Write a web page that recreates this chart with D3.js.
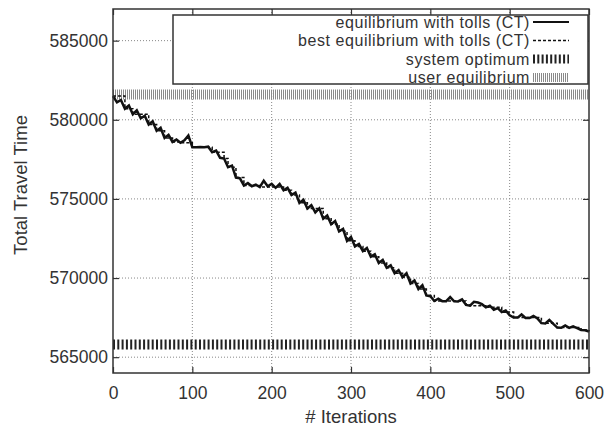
<!DOCTYPE html>
<html>
<head>
<meta charset="utf-8">
<script src="https://cdn.jsdelivr.net/npm/d3@7"></script>
<style>
  body { margin: 0; background: #fff; }
  text { font-family: "Liberation Sans", Arial, sans-serif; fill: #333; }
</style>
</head>
<body>
<svg id="vis" width="608" height="429"></svg>
<script>
// iterations sampled every 5 steps
const iterations = d3.range(0, 601, 5);

// equilibrium with tolls (CT)
const eqTolls = [
  581500, 581100, 581250, 580700, 580900, 580350, 580600, 580100, 580250, 579700,
  579900, 579300, 579500, 578850, 579050, 578600, 578750, 578550, 578700, 579000,
  578270, 578270, 578280, 578270, 578300, 577950, 578050, 577600, 577550, 577000,
  577100, 576350, 576300, 575850, 576000, 575800, 575900, 575750, 576150, 575800,
  575950, 575700, 575950, 575550, 575700, 575250, 575400, 574750, 574950, 574400,
  574600, 574150, 574400, 573750, 573950, 573400, 573600, 572950, 573100, 572350,
  572600, 572000, 572150, 571700, 571900, 571350, 571500, 570950, 571150, 570650,
  570800, 570300, 570500, 570050, 570300, 569650, 569850, 569300, 569550, 568900,
  568850, 568550, 568700, 568540, 568540, 568800, 568530, 568520, 568650, 568300,
  568250, 568500, 568450, 568350, 568150, 568250, 568000, 568100, 567850, 567950,
  567650, 567500, 567500, 567700, 567480, 567470, 567600, 567450, 567150, 567130,
  567350, 567100, 566870, 566860, 567000, 566850, 566950, 566830, 566720, 566700,
  566620
];

// best equilibrium with tolls (CT), step curve
const bestIter = [0, 15, 25, 45, 55, 65, 75, 85, 100, 125, 140, 145, 155, 165, 185, 215, 225,
  235, 245, 265, 275, 285, 295, 305, 315, 325, 335, 345, 355, 365, 375, 385, 395, 405, 445,
  450, 470, 490, 505, 540, 560, 590, 600];
const bestVal = [581500, 580700, 580350, 579700, 579300, 578850, 578600, 578550, 578270, 577950,
  577550, 577000, 576350, 575850, 575750, 575550, 575250, 574750, 574400, 573750, 573400,
  572950, 572350, 572000, 571700, 571350, 570950, 570650, 570300, 570050, 569650, 569300,
  568900, 568550, 568300, 568250, 568150, 567850, 567500, 567150, 566870, 566720, 566620];

const systemOptimum = 565800;
const userEquilibrium = 581600;

const xTicks = [0, 100, 200, 300, 400, 500, 600];
const yTicks = [565000, 570000, 575000, 580000, 585000];

const legendLabels = [
  'equilibrium with tolls (CT)',
  'best equilibrium with tolls (CT)',
  'system optimum',
  'user equilibrium'
];

const margin = {top: 9, right: 19, bottom: 56, left: 113};
const width = 608 - margin.left - margin.right;
const height = 429 - margin.top - margin.bottom;

const vis = d3.select('#vis');
const g = vis.append('g').attr('transform', `translate(${margin.left},${margin.top})`);

const x = d3.scaleLinear().domain([0, 600]).range([0, width]);
const y = d3.scaleLinear().domain([564000, 587000]).range([height, 0]);

// grid
g.append('g').selectAll('line').data(xTicks.slice(1, -1)).enter().append('line')
    .attr('x1', d => x(d)).attr('x2', d => x(d))
    .attr('y1', 0).attr('y2', height)
    .attr('stroke', '#888').attr('stroke-width', 1).attr('stroke-dasharray', '1,2');
g.append('g').selectAll('line').data(yTicks).enter().append('line')
    .attr('x1', 0).attr('x2', width)
    .attr('y1', d => y(d)).attr('y2', d => y(d))
    .attr('stroke', '#888').attr('stroke-width', 1).attr('stroke-dasharray', '1,2');

// reference lines
function band(sel, color, dash) {
  return sel.attr('stroke', color).attr('stroke-width', 10).attr('stroke-dasharray', dash);
}
band(g.append('line')
    .attr('x1', x(0)).attr('x2', x(600))
    .attr('y1', y(userEquilibrium)).attr('y2', y(userEquilibrium)), '#8a8a8a', '1,1');
band(g.append('line')
    .attr('x1', x(0)).attr('x2', x(600))
    .attr('y1', y(systemOptimum)).attr('y2', y(systemOptimum)), '#222', '2,2.3');

// series: best first, noisy one drawn over it
const bestLine = d3.line()
  .curve(d3.curveStepAfter)
  .x((d, i) => x(bestIter[i]))
  .y(d => y(d));
g.append('path').datum(bestVal)
    .attr('d', bestLine)
    .attr('fill', 'none').attr('stroke', '#111').attr('stroke-width', 1.5)
    .attr('stroke-dasharray', '3,2');

const line = d3.line()
  .x((d, i) => x(iterations[i]))
  .y(d => y(d));
g.append('path').datum(eqTolls)
    .attr('d', line)
    .attr('fill', 'none').attr('stroke', '#111').attr('stroke-width', 2.5)
    .attr('stroke-linejoin', 'miter');

// axes, ticks inward and mirrored
const fmt = d3.format('d');
g.append('g').attr('transform', `translate(0,${height})`)
    .call(d3.axisBottom(x).tickValues(xTicks).tickSize(-6).tickPadding(14).tickFormat(fmt));
g.append('g').call(d3.axisTop(x).tickValues(xTicks).tickSize(-6).tickFormat(''));
g.append('g')
    .call(d3.axisLeft(y).tickValues(yTicks).tickSize(-6).tickPadding(5).tickFormat(fmt));
g.append('g').attr('transform', `translate(${width},0)`)
    .call(d3.axisRight(y).tickValues(yTicks).tickSize(-6).tickFormat(''));

g.selectAll('.domain').remove();
g.selectAll('.tick line').attr('stroke', '#333').attr('stroke-width', 1.2);
g.selectAll('.tick text')
    .style('font-family', '"Liberation Sans", Arial, sans-serif')
    .style('font-size', '17.5px').attr('fill', '#333');

g.append('rect')
    .attr('width', width).attr('height', height)
    .attr('fill', 'none').attr('stroke', '#333').attr('stroke-width', 1.5);

// axis titles
vis.append('text')
    .attr('x', margin.left + width / 2).attr('y', 423)
    .attr('text-anchor', 'middle')
    .attr('fill', '#333')
    .style('font-size', '18.5px')
    .text('# Iterations');
vis.append('text')
    .attr('transform', 'translate(27,185) rotate(-90)')
    .attr('text-anchor', 'middle')
    .style('fill', '#333')
    .style('font-size', '18.5px')
    .text('Total Travel Time');

// legend
const legend = vis.append('g');
legend.append('rect')
    .attr('x', 173).attr('y', 15).attr('width', 415).attr('height', 69)
    .attr('fill', '#fff').attr('stroke', '#333').attr('stroke-width', 1.5);

const rowY = [22, 40.5, 59, 77.5];
const rows = legend.selectAll('g.row').data(legendLabels).enter().append('g')
    .attr('class', 'row')
    .attr('transform', (d, i) => `translate(0,${rowY[i]})`);
rows.append('text')
    .attr('x', 530).attr('y', 5.5)
    .attr('text-anchor', 'end')
    .style('font-size', '16px')
    .style('letter-spacing', '0.55px')
    .text(d => d);

const sample = (sel, i) => sel.filter((d, j) => j === i).append('line')
    .attr('x1', 533).attr('x2', 569).attr('y1', 0).attr('y2', 0);
sample(rows, 0).attr('stroke', '#111').attr('stroke-width', 2);
sample(rows, 1).attr('stroke', '#111').attr('stroke-width', 1.5).attr('stroke-dasharray', '3,2');
sample(rows, 2).attr('stroke', '#222').attr('stroke-width', 9).attr('stroke-dasharray', '2,2.3');
sample(rows, 3).attr('stroke', '#8a8a8a').attr('stroke-width', 9).attr('stroke-dasharray', '1,1');
</script>
</body>
</html>
